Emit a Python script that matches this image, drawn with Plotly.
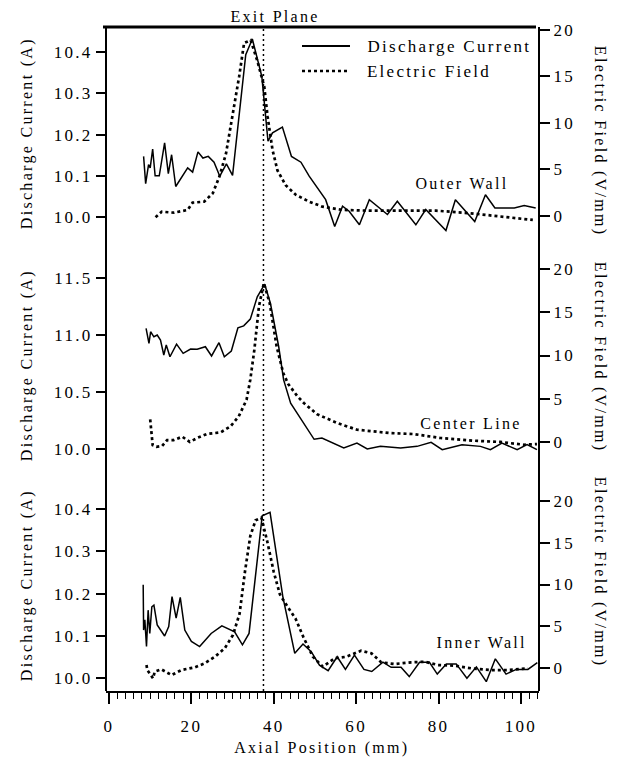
import plotly.graph_objects as go

# ---------------- data ----------------
EXIT_PLANE = 37.5

OUTER_CURRENT_X = [8.4, 8.9, 9.6, 10.0, 10.6, 11.2, 12.2, 13.5, 14.4, 15.2, 16.2, 19.1, 20.3, 21.6,
                   22.8, 24.1, 25.5, 26.9, 28.5, 30.0, 33.2, 34.8, 37.1, 38.6, 39.7, 42.1, 44.3,
                   46.6, 48.6, 52.6, 54.8, 56.7, 58.3, 60.8, 63.2, 67.6, 70.0, 74.5, 76.9, 81.8,
                   84.1, 88.8, 91.4, 93.7, 98.4, 100.8, 103.6]
OUTER_CURRENT_Y = [10.147, 10.081, 10.127, 10.119, 10.165, 10.100, 10.100, 10.180, 10.105, 10.151,
                   10.074, 10.119, 10.109, 10.158, 10.143, 10.147, 10.133, 10.099, 10.129, 10.101,
                   10.394, 10.432, 10.341, 10.184, 10.204, 10.218, 10.147, 10.133, 10.099, 10.042,
                   9.977, 10.026, 10.014, 9.981, 10.042, 10.006, 10.038, 9.981, 10.018, 9.967,
                   10.042, 9.989, 10.054, 10.022, 10.022, 10.028, 10.022]
OUTER_FIELD_X = [11.3, 12.8, 15.8, 19.1, 20.3, 23.1, 25.2, 26.8, 28.4, 30.0, 31.6, 32.8, 34.4, 36.0,
                 37.7, 38.5, 39.7, 40.9, 42.9, 45.4, 48.6, 51.8, 56.7, 63.2, 71.3, 79.4, 87.5,
                 95.6, 102.9]
OUTER_FIELD_Y = [-0.14, 0.46, 0.35, 0.65, 1.43, 1.54, 2.44, 4.23, 6.7, 10.7, 15.0, 18.6, 18.9, 16.7,
                 13.9, 10.7, 7.1, 4.9, 3.3, 2.26, 1.54, 1.0, 0.65, 0.57, 0.57, 0.57, 0.3,
                 -0.07, -0.43]

CENTER_CURRENT_X = [9.0, 9.7, 10.1, 10.9, 11.7, 12.5, 13.3, 13.9, 14.8, 16.4, 18.0, 19.8, 21.4, 23.4,
                    24.9, 26.7, 28.0, 29.7, 31.3, 32.7, 34.3, 36.0, 37.8, 39.2, 41.2, 42.4, 44.1,
                    46.9, 49.8, 51.7, 57.0, 60.2, 62.7, 65.9, 70.8, 74.8, 78.2, 80.9, 85.7, 90.2,
                    92.6, 95.4, 99.1, 101.5, 103.9]
CENTER_CURRENT_Y = [11.058, 10.926, 11.028, 10.984, 10.999, 10.955, 10.824, 10.912, 10.809, 10.920,
                    10.839, 10.877, 10.874, 10.897, 10.816, 10.932, 10.809, 10.859, 11.063, 11.080,
                    11.139, 11.334, 11.445, 11.276, 10.897, 10.606, 10.402, 10.241, 10.085, 10.096,
                    10.009, 10.052, 10.000, 10.023, 10.009, 10.023, 10.058, 9.994, 10.038, 10.023,
                    9.994, 10.052, 9.994, 10.038, 9.994]
CENTER_FIELD_X = [10.0, 10.2, 10.3, 10.6, 11.5, 12.9, 14.1, 15.7, 17.8, 19.6, 21.4, 23.8, 27.1, 29.5,
                  31.5, 33.4, 34.3, 35.3, 36.4, 37.6, 39.0, 40.7, 42.3, 43.5, 45.7, 47.3, 50.5,
                  55.4, 60.2, 68.3, 74.0, 80.5, 88.5, 95.0, 100.7, 103.9]
CENTER_FIELD_Y = [2.6, 1.5, 0.4, -0.4, -0.6, -0.5, 0.19, 0.19, 0.58, -0.03, 0.43, 0.9, 1.08, 1.78,
                  2.94, 4.87, 7.19, 10.7, 15.7, 18.4, 16.1, 11.05, 7.97, 6.7, 5.3, 4.49, 3.2,
                  2.17, 1.39, 1.0, 0.89, 0.43, 0.12, -0.03, -0.35, -0.27]

INNER_CURRENT_X = [8.3, 8.4, 8.7, 9.1, 9.5, 9.9, 10.4, 10.9, 11.7, 13.5, 14.5, 15.3, 16.3, 17.3, 18.4,
                   20.0, 22.0, 24.8, 27.4, 30.5, 32.4, 34.0, 37.2, 39.1, 42.2, 45.1, 47.1, 49.1,
                   51.1, 53.2, 55.4, 57.4, 59.6, 61.9, 63.8, 66.5, 68.5, 70.9, 72.9, 75.4, 77.8,
                   79.7, 81.9, 84.3, 86.9, 89.2, 91.6, 93.8, 96.4, 98.9, 101.7, 104.0]
INNER_CURRENT_Y = [10.221, 10.114, 10.138, 10.075, 10.161, 10.106, 10.169, 10.173, 10.126, 10.100,
                   10.122, 10.193, 10.142, 10.191, 10.114, 10.087, 10.075, 10.106, 10.124, 10.110,
                   10.079, 10.106, 10.384, 10.392, 10.193, 10.059, 10.081, 10.063, 10.031, 10.018,
                   10.051, 10.021, 10.055, 10.021, 10.016, 10.038, 10.026, 10.026, 10.004, 10.038,
                   10.038, 10.010, 10.034, 10.034, 10.000, 10.027, 9.992, 10.046, 10.010, 10.021,
                   10.021, 10.037]
INNER_FIELD_X = [9.1, 9.3, 10.7, 11.1, 12.7, 15.2, 17.6, 20.8, 23.2, 25.7, 28.1, 30.1, 31.7, 33.0,
                 34.3, 35.6, 37.0, 38.4, 40.0, 41.5, 43.4, 45.3, 47.2, 49.5, 51.9, 54.8, 57.6,
                 61.2, 63.7, 66.1, 69.3, 73.4, 76.7, 79.9, 83.9, 88.0, 92.8, 96.8, 101.7]
INNER_FIELD_Y = [0.36, -0.24, -1.24, -0.44, -0.16, -0.84, -0.24, 0.08, 0.56, 1.35, 2.36, 3.95, 6.5,
                 11.5, 15.8, 17.7, 18.0, 15.2, 11.5, 8.8, 7.3, 5.9, 3.7, 1.35, 0.16, 1.16, 1.35,
                 2.07, 1.76, 0.68, 0.48, 0.68, 0.75, 0.36, 0.28, -0.04, -0.24, -0.24, -0.04]

X_TICKS = [0, 20, 40, 60, 80, 100]
FIELD_TICKS = [0, 5, 10, 15, 20]
OUTER_TICKS = [10.0, 10.1, 10.2, 10.3, 10.4]
CENTER_TICKS = [10.0, 10.5, 11.0, 11.5]
INNER_TICKS = [10.0, 10.1, 10.2, 10.3, 10.4]

PANEL_LABELS = ["Outer Wall", "Center Line", "Inner Wall"]
LEFT_TITLE = "Discharge Current (A)"
RIGHT_TITLE = "Electric Field (V/mm)"
SERIES_NAMES = ["Discharge Current", "Electric Field"]

# ---------------- layout geometry ----------------
W, H = 623, 766
L, R, T, B = 106, 84, 27, 75
PW = W - L - R
PH = H - T - B
FONT = "Liberation Serif, Times New Roman, serif"


def px_x(px):
    return (px - L) / PW


def px_y(py):
    return (H - B - py) / PH


X_RANGE = [-0.73, 104.4]

fig = go.Figure()

SOLID = dict(color="black", width=1.5)
DOTTED = dict(color="black", width=2.7, dash="3px,3px")


def add(xs, ys, ya, dotted):
    fig.add_trace(go.Scatter(x=xs, y=ys, xaxis="x", yaxis=ya, mode="lines",
                             line=DOTTED if dotted else SOLID,
                             showlegend=False, hoverinfo="skip"))


add(OUTER_CURRENT_X, OUTER_CURRENT_Y, "y5", False)
add(OUTER_FIELD_X, OUTER_FIELD_Y, "y6", True)
add(CENTER_CURRENT_X, CENTER_CURRENT_Y, "y3", False)
add(CENTER_FIELD_X, CENTER_FIELD_Y, "y4", True)
add(INNER_CURRENT_X, INNER_CURRENT_Y, "y", False)
add(INNER_FIELD_X, INNER_FIELD_Y, "y2", True)

tickfont = dict(family=FONT, size=17, color="black")


def yleft(domain, rng, ticks):
    return dict(domain=domain, range=rng, tickvals=ticks, tickformat=".1f", ticks="outside",
                ticklen=9, tickwidth=1.5, tickcolor="black", showline=False, showgrid=False,
                zeroline=False, anchor="x", side="left", tickfont=tickfont, fixedrange=True)


def yright(overlay, rng):
    return dict(overlaying=overlay, range=rng, tickvals=FIELD_TICKS, ticks="outside",
                ticklen=10, tickwidth=1.5, tickcolor="black", showline=False, showgrid=False,
                zeroline=False, anchor="x", side="right", tickfont=tickfont, fixedrange=True)


fig.update_layout(
    width=W, height=H,
    margin=dict(l=L, r=R, t=T, b=B),
    paper_bgcolor="white", plot_bgcolor="white",
    font=dict(family=FONT, size=16, color="black"),
    showlegend=False,
    xaxis=dict(domain=[0, 1], range=X_RANGE, anchor="y", showline=True, linewidth=2,
               linecolor="black", tickvals=X_TICKS, ticks="outside", ticklen=11, tickwidth=1.5,
               tickcolor="black", showgrid=False, zeroline=False, tickfont=tickfont,
               ticklabelstandoff=8, fixedrange=True,
               minor=dict(dtick=2, tick0=0, ticks="outside", ticklen=6, tickwidth=1,
                          tickcolor="black", showgrid=False)),
    yaxis=yleft([0, px_y(465)], [9.970, 10.504], INNER_TICKS),
    yaxis2=yright("y", [-2.75, 24.31]),
    yaxis3=yleft([px_y(458), px_y(245)], [9.921, 11.789], CENTER_TICKS),
    yaxis4=yright("y3", [-1.89, 22.82]),
    yaxis5=yleft([px_y(238), 1], [9.949, 10.461], OUTER_TICKS),
    yaxis6=yright("y5", [-2.37, 20.32]),
)

shapes = [
    dict(type="line", xref="paper", yref="paper", x0=0, x1=0, y0=0, y1=1,
         line=dict(color="black", width=2)),
    dict(type="line", xref="paper", yref="paper", x0=1, x1=1, y0=0, y1=1,
         line=dict(color="black", width=2)),
    dict(type="line", xref="paper", yref="paper", x0=px_x(103), x1=px_x(536), y0=1, y1=1,
         line=dict(color="black", width=3)),
    dict(type="line", xref="x", yref="paper", x0=EXIT_PLANE, x1=EXIT_PLANE, y0=0, y1=1,
         line=dict(color="black", width=1.5, dash="2px,3px")),
    # legend samples
    dict(type="line", xref="paper", yref="paper", x0=px_x(302), x1=px_x(350),
         y0=px_y(46), y1=px_y(46), line=dict(color="black", width=2)),
    dict(type="line", xref="paper", yref="paper", x0=px_x(302), x1=px_x(350),
         y0=px_y(71), y1=px_y(71), line=DOTTED),
]
fig.update_layout(shapes=shapes)

ann = []


def text(s, px, py, angle=0, size=16):
    ann.append(dict(text=s, xref="paper", yref="paper", x=px_x(px), y=px_y(py),
                    xanchor="center", yanchor="middle", textangle=angle, showarrow=False,
                    font=dict(family=FONT, size=size, color="black")))


text("Exit Plane", 275, 16)
text(SERIES_NAMES[0], 449, 46, size=17)
text(SERIES_NAMES[1], 429, 71, size=17)
for lbl, (px, py) in zip(PANEL_LABELS, [(462, 183), (471, 423), (482, 642)]):
    text(lbl, px, py)
for py in [133, 365, 585]:
    text(LEFT_TITLE, 27, py, angle=-90)
for py in [141, 357, 572]:
    text(RIGHT_TITLE, 600, py, angle=90)
text("Axial Position (mm)", 322, 748)
fig.update_layout(annotations=ann)

POST = ("var s=document.createElement('style');"
        "s.textContent='.js-plotly-plot svg text{letter-spacing:2.3px;}';"
        "document.head.appendChild(s);")
fig.write_html("out.html", post_script=POST)
